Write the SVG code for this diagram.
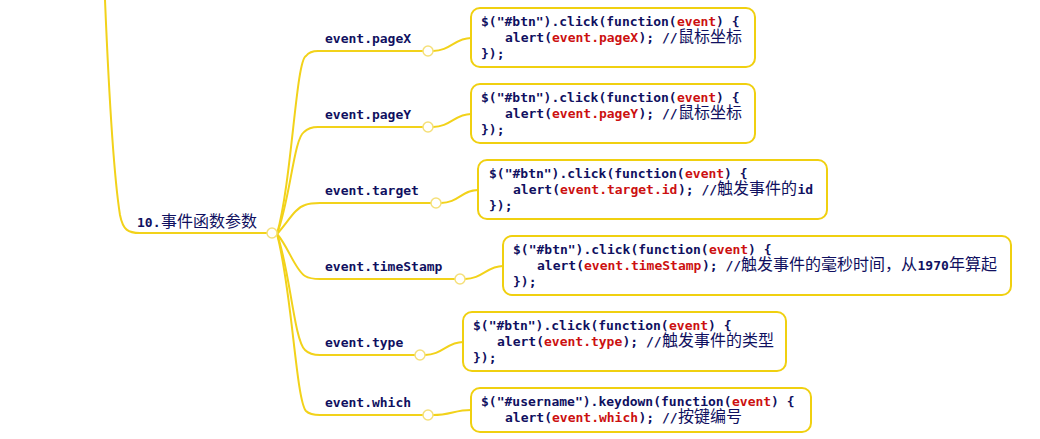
<svg xmlns="http://www.w3.org/2000/svg" width="1040" height="439" viewBox="0 0 1040 439">
<style>
.ln{fill:none;stroke:#f2d21a;stroke-width:2;stroke-linecap:round}
.dot{fill:#fff;stroke:#f5e07a;stroke-width:1.5}
.box{fill:#fff;stroke:#f0d010;stroke-width:2}
.code{font-family:"DejaVu Sans Mono","Liberation Mono",monospace;font-weight:bold;font-size:13px;fill:#101060}
.lbl{font-family:"DejaVu Sans Mono","Liberation Mono",monospace;font-weight:bold;font-size:13px;fill:#101060}
.red{fill:#cc1010}
.cjk{font-family:"Noto Sans CJK SC","Noto Sans",sans-serif;font-weight:normal;font-size:16px;fill:#101060}
</style>
<rect width="1040" height="439" fill="#fff"/>
<g id="connectors">
<path class="ln" d="M105,0 C110,120 116,190 120,215 C123,230 128,233 140,233 L267,233" stroke-width="2.5"/>
<path class="ln" d="M277,234 C292,180 296,60 306,56 C309,52 312,51 318,51 L423,51"/>
<path class="ln" d="M277,234 C290,200 294,138 304,132 C308,128 312,127 318,127 L423,127"/>
<path class="ln" d="M277,234 C288,222 295,208 305,205 C310,203 314,203 320,203 L431,203"/>
<path class="ln" d="M277,234 C288,246 295,270 305,276 C310,279 314,279 320,279 L455,279"/>
<path class="ln" d="M277,234 C290,270 294,340 305,350 C309,354 313,355 320,355 L415,355"/>
<path class="ln" d="M277,234 C292,290 296,400 306,411 C309,414 313,415 320,415 L423,415"/>
<path class="ln" d="M433,51 C450,51 455,38 471,38"/>
<path class="ln" d="M433,127 C450,127 455,114 471,114"/>
<path class="ln" d="M441,203 C458,203 462,190 478,190"/>
<path class="ln" d="M465,279 C482,279 487,266 503,266"/>
<path class="ln" d="M425,355 C442,355 447,342 463,342"/>
<path class="ln" d="M433,415 C450,415 455,410 471,410"/>
</g>
<g id="root">
<circle class="dot" cx="272" cy="233" r="5"/>
<text class="lbl" x="137" y="227">10.</text>
<text class="cjk" x="161" y="227">事件函数参数</text>
</g>
<g id="n-pageX">
<circle class="dot" cx="428" cy="51" r="5"/>
<text class="lbl" x="325" y="43">event.pageX</text>
</g>
<g id="n-pageY">
<circle class="dot" cx="428" cy="127" r="5"/>
<text class="lbl" x="325" y="119">event.pageY</text>
</g>
<g id="n-target">
<circle class="dot" cx="436" cy="203" r="5"/>
<text class="lbl" x="325" y="195">event.target</text>
</g>
<g id="n-timeStamp">
<circle class="dot" cx="460" cy="279" r="5"/>
<text class="lbl" x="325" y="271">event.timeStamp</text>
</g>
<g id="n-type">
<circle class="dot" cx="420" cy="355" r="5"/>
<text class="lbl" x="325" y="347">event.type</text>
</g>
<g id="n-which">
<circle class="dot" cx="428" cy="415" r="5"/>
<text class="lbl" x="325" y="407">event.which</text>
</g>
<g id="box-pageX">
<rect class="box" x="471" y="8" width="284" height="59" rx="9"/>
<text class="code" x="481" y="26">$("#btn").click(function(</text>
<text class="code red" x="677" y="26">event</text>
<text class="code" x="716" y="26">) {</text>
<text class="code" x="505" y="42">alert(</text>
<text class="code red" x="552" y="42">event.pageX</text>
<text class="code" x="638.5" y="42">); //</text>
<text class="cjk" x="678" y="42">鼠标坐标</text>
<text class="code" x="481" y="58">});</text>
</g>
<g id="box-pageY">
<rect class="box" x="471" y="84" width="284" height="59" rx="9"/>
<text class="code" x="481" y="102">$("#btn").click(function(</text>
<text class="code red" x="677" y="102">event</text>
<text class="code" x="716" y="102">) {</text>
<text class="code" x="505" y="118">alert(</text>
<text class="code red" x="552" y="118">event.pageY</text>
<text class="code" x="638.5" y="118">); //</text>
<text class="cjk" x="678" y="118">鼠标坐标</text>
<text class="code" x="481" y="134">});</text>
</g>
<g id="box-target">
<rect class="box" x="478" y="160" width="349" height="59" rx="9"/>
<text class="code" x="489" y="178">$("#btn").click(function(</text>
<text class="code red" x="685" y="178">event</text>
<text class="code" x="724" y="178">) {</text>
<text class="code" x="513" y="194">alert(</text>
<text class="code red" x="560" y="194">event.target.id</text>
<text class="code" x="678" y="194">); //</text>
<text class="cjk" x="717" y="194">触发事件的</text>
<text class="code" x="797.5" y="194">id</text>
<text class="code" x="489" y="210">});</text>
</g>
<g id="box-timeStamp">
<rect class="box" x="503" y="236" width="508" height="59" rx="9"/>
<text class="code" x="513" y="254">$("#btn").click(function(</text>
<text class="code red" x="709" y="254">event</text>
<text class="code" x="748" y="254">) {</text>
<text class="code" x="537" y="270">alert(</text>
<text class="code red" x="584" y="270">event.timeStamp</text>
<text class="code" x="702" y="270">); //</text>
<text class="cjk" x="741" y="270">触发事件的毫秒时间，从</text>
<text class="code" x="917.5" y="270">1970</text>
<text class="cjk" x="949" y="270">年算起</text>
<text class="code" x="513" y="286">});</text>
</g>
<g id="box-type">
<rect class="box" x="463" y="312" width="323" height="59" rx="9"/>
<text class="code" x="473" y="330">$("#btn").click(function(</text>
<text class="code red" x="669" y="330">event</text>
<text class="code" x="708" y="330">) {</text>
<text class="code" x="497" y="346">alert(</text>
<text class="code red" x="544" y="346">event.type</text>
<text class="code" x="622.5" y="346">); //</text>
<text class="cjk" x="662" y="346">触发事件的类型</text>
<text class="code" x="473" y="362">});</text>
</g>
<g id="box-which">
<rect class="box" x="471" y="388" width="340" height="44" rx="9"/>
<text class="code" x="481" y="406">$("#username").keydown(function(</text>
<text class="code red" x="732" y="406">event</text>
<text class="code" x="771" y="406">) {</text>
<text class="code" x="505" y="422">alert(</text>
<text class="code red" x="552" y="422">event.which</text>
<text class="code" x="638.5" y="422">); //</text>
<text class="cjk" x="678" y="422">按键编号</text>
</g>
</svg>
